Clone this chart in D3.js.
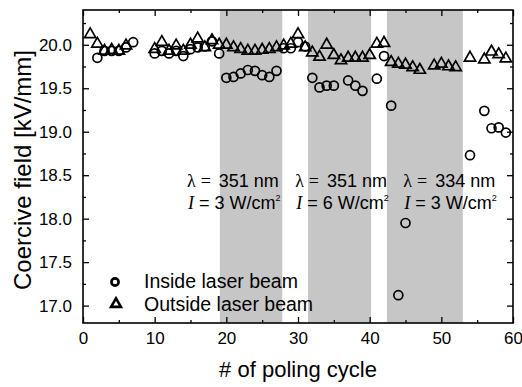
<!DOCTYPE html>
<html>
<head>
<meta charset="utf-8">
<script src="https://cdn.jsdelivr.net/npm/d3@7"></script>
<style>
  body { margin: 0; background: #fff; }
  svg { display: block; }
  text { font-family: "Liberation Sans", Arial, sans-serif; fill: #000; }
</style>
</head>
<body>
<svg id="chart" width="522" height="387"></svg>
<script>
// inside laser beam (circles)
const insideCycle = [2, 3, 4, 5, 6, 7, 10, 11, 12, 13, 14, 15, 16, 17, 18, 19,
  20, 21, 22, 23, 24, 25, 26, 27, 28, 29, 30, 31, 32, 33, 34, 35, 37, 38, 39,
  41, 42, 43, 44, 45, 54, 56, 57, 58, 59]
const insideField = [19.85, 19.93, 19.93, 19.93, 19.97, 20.03, 19.9, 19.93, 19.9, 19.93, 19.87, 19.95, 19.97, 19.98, 20.04, 19.9,
  19.62, 19.63, 19.67, 19.71, 19.70, 19.65, 19.63, 19.70, 19.96, 19.96, 20.03, 19.98, 19.62, 19.51, 19.53, 19.53, 19.59, 19.53, 19.47,
  19.61, 19.87, 19.30, 17.12, 17.95, 18.73, 19.24, 19.04, 19.05, 18.99]

// outside laser beam (triangles)
const outsideCycle = [1, 2, 3, 4, 5, 6, 10, 11, 12, 13, 14, 15, 16, 17, 18, 19,
  20, 21, 22, 23, 24, 25, 26, 27, 28, 29, 30, 31, 32, 33, 34, 35, 36, 37, 38, 39, 40,
  41, 42, 43, 44, 45, 46, 47, 49, 50, 51, 52, 54, 56, 57, 58, 59]
const outsideField = [20.12, 20.01, 19.93, 19.94, 19.93, 19.99, 19.95, 20.03, 19.93, 19.99, 19.93, 20.0, 20.07, 19.97, 20.05, 20.0,
  20.0, 19.97, 19.95, 19.93, 19.93, 19.94, 19.95, 19.97, 19.99, 20.01, 20.12, 19.97, 19.91, 19.86, 20.0, 19.88, 19.82, 19.85, 19.85, 19.85, 19.88,
  20.01, 20.02, 19.8, 19.78, 19.77, 19.74, 19.71, 19.76, 19.78, 19.75, 19.74, 19.85, 19.83, 19.92, 19.89, 19.84]

// laser exposure periods (gray bands)
const bandStart = [19.1, 31.4, 42.4]
const bandEnd = [27.8, 40.2, 53.0]
const bandLambda = [351, 351, 334]
const bandIntensity = [3, 6, 3]

const xTicks = [0, 10, 20, 30, 40, 50, 60]
const xMinor = [5, 15, 25, 35, 45, 55]
const yTicks = [17.0, 17.5, 18.0, 18.5, 19.0, 19.5, 20.0]
const yMinor = [17.25, 17.75, 18.25, 18.75, 19.25, 19.75, 20.25]

const legendLabels = ['Inside laser beam', 'Outside laser beam']

const margin = { left: 83, top: 10, right: 9, bottom: 64 }
const width = 522 - margin.left - margin.right
const height = 387 - margin.top - margin.bottom

const svg = d3.select('#chart')
const g = svg.append('g').attr('transform', `translate(${margin.left},${margin.top})`)

const x = d3.scaleLinear().domain([0, 60]).range([0, width])
const y = d3.scaleLinear().domain([16.8, 20.4]).range([height, 0])

//灰色區塊
g.selectAll('rect.band')
  .data(bandStart)
  .enter()
  .append('rect')
  .attr('class', 'band')
  .attr('x', (d) => x(d))
  .attr('y', 0)
  .attr('width', (d, i) => x(bandEnd[i]) - x(d))
  .attr('height', height)
  .style('fill', '#c6c6c6')

//座標軸 (ticks inward on all four sides)
function addAxis(axis, tf, labels) {
  const a = g.append('g').attr('transform', tf).call(axis)
  a.select('.domain').remove()
  a.selectAll('line').style('stroke', '#000').style('stroke-width', 1.3)
  if (!labels) a.selectAll('text').remove()
  else a.selectAll('text').style('font-size', '17px').style('font-family', '"Liberation Sans", Arial, sans-serif')
  return a
}

addAxis(d3.axisBottom(x).tickValues(xTicks).tickSize(-6).tickPadding(9).tickFormat(d3.format('d')), `translate(0,${height})`, true)
addAxis(d3.axisBottom(x).tickValues(xMinor).tickSize(-3), `translate(0,${height})`, false)
addAxis(d3.axisTop(x).tickValues(xTicks).tickSize(-6), 'translate(0,0)', false)
addAxis(d3.axisTop(x).tickValues(xMinor).tickSize(-3), 'translate(0,0)', false)
addAxis(d3.axisLeft(y).tickValues(yTicks).tickSize(-6).tickPadding(11).tickFormat(d3.format('.1f')), 'translate(0,0)', true)
addAxis(d3.axisLeft(y).tickValues(yMinor).tickSize(-3), 'translate(0,0)', false)
addAxis(d3.axisRight(y).tickValues(yTicks).tickSize(-6), `translate(${width},0)`, false)
addAxis(d3.axisRight(y).tickValues(yMinor).tickSize(-3), `translate(${width},0)`, false)

g.append('rect')
  .attr('width', width)
  .attr('height', height)
  .style('fill', 'none')
  .style('stroke', '#000')
  .style('stroke-width', 1.6)

//資料點
const triangle = d3.symbol().type(d3.symbolTriangle).size(55)

g.selectAll('path.outside')
  .data(outsideCycle)
  .enter()
  .append('path')
  .attr('class', 'outside')
  .attr('d', triangle)
  .attr('transform', (d, i) => `translate(${x(d)},${y(outsideField[i])})`)
  .style('fill', 'none')
  .style('stroke', '#000')
  .style('stroke-width', 1.7)

g.selectAll('circle.inside')
  .data(insideCycle)
  .enter()
  .append('circle')
  .attr('class', 'inside')
  .attr('cx', (d) => x(d))
  .attr('cy', (d, i) => y(insideField[i]))
  .attr('r', 4.5)
  .style('fill', 'none')
  .style('stroke', '#000')
  .style('stroke-width', 1.7)

//雷射條件標示
const annX = [14.5, 29.6, 44.7]
const serif = '"Liberation Serif", "Times New Roman", serif'

annX.forEach((ax, i) => {
  const t1 = g.append('text')
    .attr('x', x(ax))
    .attr('y', 177)
    .style('font-size', '18px')
  t1.append('tspan').text('λ').style('font-family', serif)
  t1.append('tspan').text('=').attr('dx', 5).style('font-family', serif)
  t1.append('tspan').text(`${bandLambda[i]} nm`).attr('dx', 8)

  const t2 = g.append('text')
    .attr('x', x(ax) + 1)
    .attr('y', 199)
    .style('font-size', '18px')
  t2.append('tspan').text('I').style('font-family', serif).style('font-style', 'italic')
  t2.append('tspan').text('=').attr('dx', 5)
  t2.append('tspan').text(`${bandIntensity[i]} W/cm`).attr('dx', 5)
  t2.append('tspan').text('2').attr('dy', -8).style('font-size', '9px')
})

//圖例
const legend = g.append('g').attr('transform', 'translate(32,272)')
legend.append('circle')
  .attr('cx', 0).attr('cy', 0).attr('r', 3.6)
  .style('fill', 'none').style('stroke', '#000').style('stroke-width', 2.6)
legend.append('path')
  .attr('d', d3.symbol().type(d3.symbolTriangle).size(42))
  .attr('transform', 'translate(1,22)')
  .style('fill', 'none').style('stroke', '#000').style('stroke-width', 2.6)
legend.selectAll('text')
  .data(legendLabels)
  .enter()
  .append('text')
  .attr('x', 29)
  .attr('y', (d, i) => 6 + i * 23)
  .style('font-size', '19.5px')
  .text((d) => d)

//軸標題
svg.append('text')
  .attr('x', margin.left + width / 2)
  .attr('y', 377)
  .attr('text-anchor', 'middle')
  .style('font-size', '22px')
  .text('# of poling cycle')

svg.append('text')
  .attr('transform', `translate(31,${margin.top + 160}) rotate(-90)`)
  .attr('text-anchor', 'middle')
  .style('font-size', '24px')
  .text('Coercive field [kV/mm]')
</script>
</body>
</html>
